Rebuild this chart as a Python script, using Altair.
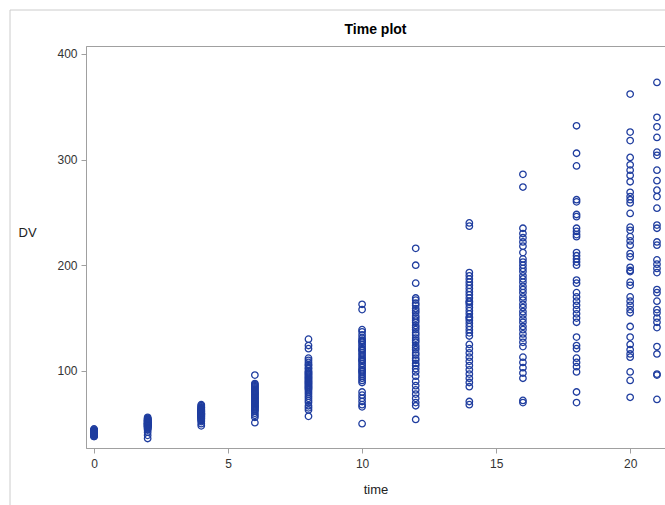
import altair as alt
import pandas as pd

# Visit times and DV values observed at each time
times = [0, 2, 4, 6, 8, 10, 12, 14, 16, 18, 20, 21]

dv_t0 = [38, 39, 39, 40, 40, 40, 41, 41, 41, 41, 42, 42, 42, 42, 43, 43, 43, 44, 44, 45,
         38, 40, 41, 42, 43, 41, 42, 40, 39, 43]
dv_t2 = [36, 39, 42, 44, 45, 46, 46, 47, 47, 48, 48, 49, 49, 50, 50, 50, 51, 51, 52, 52,
         53, 53, 54, 54, 55, 55, 56, 48, 49, 51, 47, 52, 50, 53]
dv_t4 = [48, 50, 52, 53, 54, 55, 56, 56, 57, 58, 58, 59, 59, 60, 60, 61, 61, 62, 62, 63,
         63, 64, 64, 65, 65, 66, 67, 68, 57, 60, 62, 59, 61, 55]
dv_t6 = [51, 56, 58, 60, 62, 63, 64, 65, 66, 67, 68, 69, 70, 71, 72, 73, 74, 75, 76, 77,
         78, 79, 80, 81, 82, 83, 84, 85, 86, 87, 88, 96, 70, 74, 78, 66]
dv_t8 = [130, 124, 121, 112, 110, 108, 106, 105, 103, 102, 100, 99, 98, 97, 96, 95, 94, 93,
         92, 91, 90, 89, 88, 87, 86, 85, 84, 83, 82, 80, 78, 76, 74, 72, 70, 67, 65, 63, 57]
dv_t10 = [163, 158, 139, 137, 134, 131, 129, 127, 125, 123, 121, 119, 117, 115, 113, 111,
          109, 107, 105, 103, 101, 99, 97, 95, 93, 91, 89, 80, 77, 74, 71, 68, 66, 50, 120,
          110, 100, 128]
dv_t12 = [216, 200, 183, 169, 167, 164, 162, 159, 157, 155, 152, 150, 148, 146, 143, 141,
          139, 136, 134, 131, 129, 127, 124, 122, 120, 117, 115, 112, 110, 107, 105, 102,
          99, 95, 90, 86, 82, 78, 74, 70, 67, 54]
dv_t14 = [240, 237, 193, 190, 187, 184, 181, 178, 175, 172, 169, 166, 163, 160, 157, 154,
          151, 148, 145, 142, 139, 136, 133, 125, 121, 117, 113, 109, 105, 101, 97, 93, 89,
          85, 71, 68, 150, 165]
dv_t16 = [286, 274, 235, 230, 226, 222, 218, 212, 206, 203, 200, 197, 194, 190, 187, 184,
          180, 177, 174, 170, 167, 163, 160, 156, 153, 149, 146, 142, 139, 135, 131, 127,
          123, 113, 108, 103, 98, 93, 72, 70]
dv_t18 = [332, 306, 294, 262, 260, 248, 246, 235, 232, 229, 227, 212, 209, 206, 203, 200,
          186, 183, 174, 170, 166, 162, 158, 154, 150, 146, 132, 124, 121, 112, 108, 104,
          99, 80, 70]
dv_t20 = [362, 326, 318, 302, 295, 290, 285, 279, 269, 265, 262, 259, 249, 236, 233, 227,
          223, 219, 211, 208, 198, 195, 194, 184, 181, 170, 166, 162, 158, 155, 142, 132,
          125, 120, 116, 113, 99, 91, 75]
dv_t21 = [373, 340, 331, 321, 307, 304, 290, 280, 271, 265, 254, 238, 235, 222, 219, 205,
          201, 197, 193, 177, 174, 166, 158, 155, 150, 146, 141, 123, 116, 97, 96, 73]

x_ticks = [0, 5, 10, 15, 20]
y_ticks = [100, 200, 300, 400]

series = [dv_t0, dv_t2, dv_t4, dv_t6, dv_t8, dv_t10, dv_t12, dv_t14, dv_t16, dv_t18,
          dv_t20, dv_t21]
rows = []
for t, vals in zip(times, series):
    for v in vals:
        rows.append({"time": t, "DV": v})
df = pd.DataFrame(rows)

FONT = "Liberation Sans"
AXIS_GRAY = "#a0a0a0"

points = alt.Chart(df).mark_point(
    shape="circle", filled=False, size=42, strokeWidth=1.3, color="#1f3d9f", opacity=1
).encode(
    x=alt.X("time:Q",
            scale=alt.Scale(domain=[-0.3, 21.3], nice=False, zero=False),
            axis=alt.Axis(values=x_ticks, title="time", grid=False, tickSize=5,
                          labelPadding=5, titlePadding=14, labelFontSize=12,
                          titleFontSize=13, titleFontWeight="normal", labelFont=FONT,
                          titleFont=FONT, labelColor="#333333", titleColor="#222222",
                          domainColor=AXIS_GRAY, tickColor=AXIS_GRAY)),
    y=alt.Y("DV:Q",
            scale=alt.Scale(domain=[27, 407.5], nice=False, zero=False),
            axis=alt.Axis(values=y_ticks, title="DV", grid=False, tickSize=5,
                          labelPadding=4, labelFontSize=12, titleFontSize=13,
                          titleFontWeight="normal", labelFont=FONT, titleFont=FONT,
                          labelColor="#333333", titleColor="#222222",
                          titleAngle=0, titleAlign="left", titleBaseline="middle",
                          titleX=-68, titleY=186,
                          domainColor=AXIS_GRAY, tickColor=AXIS_GRAY))
)

one = alt.Data(values=[{}])
border_v = alt.Chart(one).mark_rule(color="#cccccc", strokeWidth=1).encode(
    x=alt.value(-76), y=alt.value(-36), y2=alt.value(470))
border_h = alt.Chart(one).mark_rule(color="#cccccc", strokeWidth=1).encode(
    x=alt.value(-76), x2=alt.value(579), y=alt.value(-36))

chart = alt.layer(border_v, border_h, points).properties(
    width=579,
    height=402,
    title=alt.Title("Time plot", fontSize=14, fontWeight="bold", font=FONT,
                    color="black", offset=-27, anchor="middle", frame="group"),
    autosize=alt.AutoSizeParams(type="none"),
    padding={"left": 86, "top": 46, "right": 0, "bottom": 57},
    background="white",
).configure_view(stroke=AXIS_GRAY, strokeWidth=1)

chart.save("out.html", embed_options={"renderer": "svg", "actions": False})
